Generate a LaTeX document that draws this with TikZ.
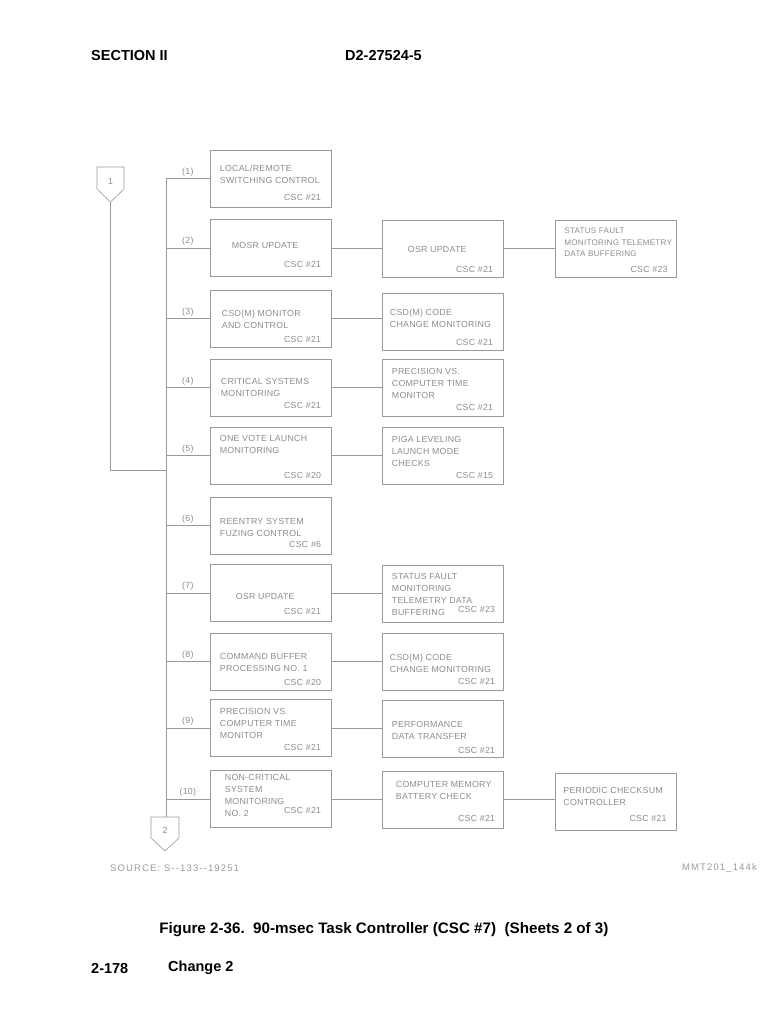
\documentclass[tikz,border=0pt]{standalone}
\usepackage{fontspec}
\setmainfont{Liberation Sans}
\newfontfamily\cadfont[LetterSpace=3]{Liberation Sans}
\newfontfamily\notefont[LetterSpace=12]{Liberation Sans}
\usetikzlibrary{calc}

\begin{document}
\begin{tikzpicture}[
  x=1pt, y=-1pt,
  line/.style={draw=black!40, line width=0.6pt},
  taskbox/.style={draw=black!40, line width=0.6pt, minimum width=121pt, minimum height=57pt, inner sep=0pt},
  boxtext/.style={font=\cadfont\fontsize{8.8}{12}\selectfont, text=black!45, align=left, anchor=north west, inner sep=0pt},
  csctext/.style={font=\cadfont\fontsize{8.8}{12}\selectfont, text=black!45, anchor=base east, inner sep=0pt},
  numlabel/.style={font=\cadfont\fontsize{8.8}{10}\selectfont, text=black!45, above=2pt, inner sep=0pt},
  notetext/.style={font=\notefont\fontsize{9.5}{11}\selectfont, text=black!40, inner sep=0pt},
  pagehead/.style={font=\bfseries\fontsize{14.5}{16}\selectfont, anchor=west, inner sep=0pt}
]
\useasboundingbox (0,0) rectangle (768,1024);

% page header
\node[pagehead] (sect) at (91,56) {SECTION II};
\node[pagehead] (docno) at (345,56) {D2-27524-5};

% off-page connectors
\draw[line] (97,167) -- (124,167) -- (124,189) -- (110.5,202) -- (97,189) -- cycle;
\node[font=\cadfont\fontsize{8.8}{10}\selectfont, text=black!45] (off1) at (110.5,181) {1};
\coordinate (off1tip) at (110.5,202);
\draw[line] (151,817) -- (179,817) -- (179,838) -- (165,851) -- (151,838) -- cycle;
\node[font=\cadfont\fontsize{8.8}{10}\selectfont, text=black!45] (off2) at (165,830) {2};
\coordinate (off2top) at (165,817);

% first column
\node[taskbox] (b1) at (270.5,178.5) {};
\node[boxtext] (b1t) at ([shift={(10,15)}]b1.north west) {LOCAL/REMOTE\\SWITCHING CONTROL};
\node[csctext] (b1c) at ([shift={(-10,-7)}]b1.south east) {CSC \#21};
\node[taskbox] (b2) at (270.5,248) {};
\node[boxtext] (b2t) at ([shift={(22,23)}]b2.north west) {MOSR UPDATE};
\node[csctext] (b2c) at ([shift={(-10,-9)}]b2.south east) {CSC \#21};
\node[taskbox] (b3) at (270.5,318.5) {};
\node[boxtext] (b3t) at ([shift={(12,20)}]b3.north west) {CSD(M) MONITOR\\AND CONTROL};
\node[csctext] (b3c) at ([shift={(-10,-5)}]b3.south east) {CSC \#21};
\node[taskbox] (b4) at (270.5,387.5) {};
\node[boxtext] (b4t) at ([shift={(11,19)}]b4.north west) {CRITICAL SYSTEMS\\MONITORING};
\node[csctext] (b4c) at ([shift={(-10,-8)}]b4.south east) {CSC \#21};
\node[taskbox] (b5) at (270.5,455.5) {};
\node[boxtext] (b5t) at ([shift={(10,8)}]b5.north west) {ONE VOTE LAUNCH\\MONITORING};
\node[csctext] (b5c) at ([shift={(-10,-6)}]b5.south east) {CSC \#20};
\node[taskbox] (b6) at (270.5,525.5) {};
\node[boxtext] (b6t) at ([shift={(10,21)}]b6.north west) {REENTRY SYSTEM\\FUZING CONTROL};
\node[csctext] (b6c) at ([shift={(-10,-7)}]b6.south east) {CSC \#6};
\node[taskbox] (b7) at (270.5,593) {};
\node[boxtext] (b7t) at ([shift={(26,29)}]b7.north west) {OSR UPDATE};
\node[csctext] (b7c) at ([shift={(-10,-7)}]b7.south east) {CSC \#21};
\node[taskbox] (b8) at (270.5,661.5) {};
\node[boxtext] (b8t) at ([shift={(10,20)}]b8.north west) {COMMAND BUFFER\\PROCESSING NO. 1};
\node[csctext] (b8c) at ([shift={(-10,-5)}]b8.south east) {CSC \#20};
\node[taskbox] (b9) at (270.5,728) {};
\node[boxtext] (b9t) at ([shift={(10,9)}]b9.north west) {PRECISION VS.\\COMPUTER TIME\\MONITOR};
\node[csctext] (b9c) at ([shift={(-10,-6)}]b9.south east) {CSC \#21};
\node[taskbox] (b10) at (270.5,799) {};
\node[boxtext] (b10t) at ([shift={(15,4)}]b10.north west) {NON-CRITICAL\\SYSTEM\\MONITORING\\NO. 2};
\node[csctext] (b10c) at ([shift={(-10,-14)}]b10.south east) {CSC \#21};

% second column
\node[taskbox] (c2) at (442.5,248.5) {};
\node[boxtext] (c2t) at ([shift={(26,26)}]c2.north west) {OSR UPDATE};
\node[csctext] (c2c) at ([shift={(-10,-5)}]c2.south east) {CSC \#21};
\node[taskbox] (c3) at (442.5,322) {};
\node[boxtext] (c3t) at ([shift={(8,16)}]c3.north west) {CSD(M) CODE\\CHANGE MONITORING};
\node[csctext] (c3c) at ([shift={(-10,-5)}]c3.south east) {CSC \#21};
\node[taskbox] (c4) at (442.5,388) {};
\node[boxtext] (c4t) at ([shift={(10,9)}]c4.north west) {PRECISION VS.\\COMPUTER TIME\\MONITOR};
\node[csctext] (c4c) at ([shift={(-10,-6)}]c4.south east) {CSC \#21};
\node[taskbox] (c5) at (442.5,455.5) {};
\node[boxtext] (c5t) at ([shift={(10,9)}]c5.north west) {PIGA LEVELING\\LAUNCH MODE\\CHECKS};
\node[csctext] (c5c) at ([shift={(-10,-6)}]c5.south east) {CSC \#15};
\node[taskbox] (c7) at (442.5,593.5) {};
\node[boxtext] (c7t) at ([shift={(10,8)}]c7.north west) {STATUS FAULT\\MONITORING\\TELEMETRY DATA\\BUFFERING};
\node[csctext] (c7c) at ([shift={(-8,-10)}]c7.south east) {CSC \#23};
\node[taskbox] (c8) at (442.5,662) {};
\node[boxtext] (c8t) at ([shift={(8,21)}]c8.north west) {CSD(M) CODE\\CHANGE MONITORING};
\node[csctext] (c8c) at ([shift={(-8,-6)}]c8.south east) {CSC \#21};
\node[taskbox] (c9) at (442.5,728.5) {};
\node[boxtext] (c9t) at ([shift={(10,21)}]c9.north west) {PERFORMANCE\\DATA TRANSFER};
\node[csctext] (c9c) at ([shift={(-8,-4)}]c9.south east) {CSC \#21};
\node[taskbox] (c10) at (442.5,799.5) {};
\node[boxtext] (c10t) at ([shift={(14,10)}]c10.north west) {COMPUTER MEMORY\\BATTERY CHECK};
\node[csctext] (c10c) at ([shift={(-8,-7)}]c10.south east) {CSC \#21};

% third column
\node[taskbox] (d2) at (616,248.5) {};
\node[boxtext, font=\cadfont\fontsize{8.1}{11.5}\selectfont] (d2t) at ([shift={(9,8)}]d2.north west) {STATUS FAULT\\MONITORING TELEMETRY\\DATA BUFFERING};
\node[csctext] (d2c) at ([shift={(-9,-5)}]d2.south east) {CSC \#23};
\node[taskbox] (d10) at (616,801.5) {};
\node[boxtext] (d10t) at ([shift={(8,14)}]d10.north west) {PERIODIC CHECKSUM\\CONTROLLER};
\node[csctext] (d10c) at ([shift={(-10,-9)}]d10.south east) {CSC \#21};

% bus and branches
\coordinate (busTop) at (166,178.5);
\coordinate (busJoin) at (166,470);
\draw[line] (off1tip) |- (busJoin);
\draw[line] (busTop) -- (off2top -| busTop);
\foreach \i in {1,...,10} {
  \draw[line] (b\i.west -| busTop) -- node[numlabel] (n\i) {(\i)} (b\i.west);
}
\foreach \i in {2,3,4,5,7,8,9,10} {
  \draw[line] (b\i.east) -- (b\i.east -| c\i.west);
}
\draw[line] (c2.east) -- (d2.west);
\draw[line] (c10.east) -- (c10.east -| d10.west);

% source notes
\node[notetext, anchor=west] (src) at (110,868) {SOURCE: S--133--19251};
\node[notetext, anchor=east] (dwg) at (757,868) {MMT201\_144k};

% caption and footer
\node[font=\bfseries\fontsize{15.2}{17}\selectfont, inner sep=0pt] (cap) at (384,930) {Figure 2-36.\ \ 90-msec Task Controller (CSC \#7)\ \ (Sheets 2 of 3)};
\node[pagehead] (pgno) at (91,968) {2-178};
\node[pagehead] (chg) at (168,968) {Change 2};
\end{tikzpicture}
\end{document}
